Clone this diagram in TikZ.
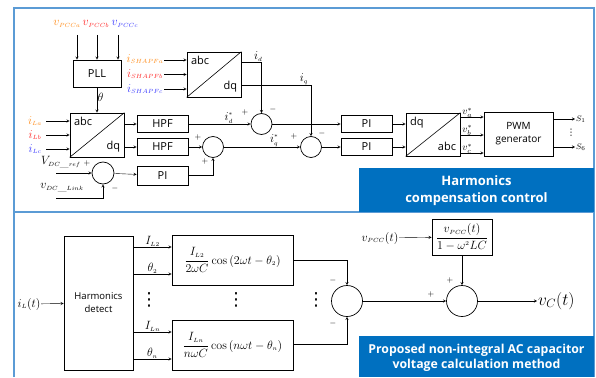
\documentclass[tikz,border=0pt]{standalone}
\usepackage{fontspec}
\setsansfont{Open Sans}
\newfontfamily\dotsfont{DejaVu Sans}
\usepackage{tikz}
\usetikzlibrary{positioning, calc}
\DeclareMathSizes{12}{12}{6.5}{5}
\definecolor{framecol}{HTML}{5B9BD5}
\definecolor{titlebg}{HTML}{0070C0}
\definecolor{phasea}{HTML}{FF8C1A}
\definecolor{phaseb}{HTML}{FF2A2A}
\definecolor{phasec}{HTML}{3A3AFF}

\begin{document}
\begin{tikzpicture}[x=1pt, y=-1pt, >=stealth,
    blk/.style={draw, line width=0.7pt, inner sep=0pt, font=\sffamily\fontsize{11}{13}\selectfont},
    sumnode/.style={draw, circle, line width=0.7pt, inner sep=0pt, minimum size=21pt},
    lbl/.style={inner sep=0.5pt, font=\large},
    sgn/.style={inner sep=0pt, font=\footnotesize},
    vdotsnode/.style={inner sep=0pt, font=\dotsfont\fontsize{18}{18}\selectfont},
    title/.style={text=white, align=center, font=\sffamily\bfseries\fontsize{13}{17}\selectfont}]
      \useasboundingbox (0,0) rectangle (596,377);

      % Frame
      \draw[framecol, line width=1.3pt] (14,377) -- (14,8) -- (594,8) -- (594,377);
      \draw[framecol, line width=1.3pt] (14,212) -- (594,212);
      \fill[titlebg] (359,168) rectangle (594,212);
      \fill[titlebg] (359,336) rectangle (594,377);
      \node[title] (ttop) at (476.5,191) {Harmonics\\compensation control};
      \node[title, font=\sffamily\bfseries\fontsize{12.3}{14.5}\selectfont] (tbot) at (476.5,358) {Proposed non-integral AC capacitor\\voltage calculation method};

      % Nodes (top)
      \node[blk, minimum width=48pt, minimum height=27pt] (pll) at (97,73.5) {PLL};
      \node[blk, minimum width=54pt, minimum height=44pt] (tl) at (97,135) {};
      \node[blk, minimum width=54pt, minimum height=45pt] (ts) at (214,74.5) {};
      \node[blk, minimum width=51pt, minimum height=17pt] (hpfd) at (162.5,124) {HPF};
      \node[blk, minimum width=51pt, minimum height=17pt] (hpfq) at (162.5,147) {HPF};
      \node[blk, minimum width=51pt, minimum height=19pt] (pidc) at (162.5,175.5) {PI};
      \node[sumnode] (sd) at (261.5,124) {};
      \node[sumnode] (sdc) at (213,147) {};
      \node[sumnode, minimum size=22pt] (sv) at (103,173) {};
      \node[sumnode] (sq) at (311,147) {};
      \node[blk, minimum width=51pt, minimum height=17pt] (pid) at (366.5,124) {PI};
      \node[blk, minimum width=51pt, minimum height=17pt] (piq) at (366.5,147) {PI};
      \node[blk, minimum width=54pt, minimum height=43pt] (tv) at (433,134.5) {};
      \node[blk, minimum width=69pt, minimum height=44pt, align=center, font=\sffamily\fontsize{10}{13}\selectfont] (pwm) at (518.5,134) {PWM\\generator};

      % abc/dq labels
      \draw[line width=0.6pt] (tl.south west) -- (tl.north east);
      \node[blk, draw=none, anchor=north west] (tlabc) at ([xshift=4pt,yshift=-4pt]tl.north west) {abc};
      \node[blk, draw=none, anchor=south east] (tldq) at ([xshift=-4pt,yshift=5pt]tl.south east) {dq};
      \draw[line width=0.6pt] (ts.south west) -- (ts.north east);
      \node[blk, draw=none, anchor=north west] (tsabc) at ([xshift=4pt,yshift=-4pt]ts.north west) {abc};
      \node[blk, draw=none, anchor=south east] (tsdq) at ([xshift=-4pt,yshift=5pt]ts.south east) {dq};
      \draw[line width=0.6pt] (tv.south west) -- (tv.north east);
      \node[blk, draw=none, anchor=north west] (tvdq) at ([xshift=4pt,yshift=-4pt]tv.north west) {dq};
      \node[blk, draw=none, anchor=south east] (tvabc) at ([xshift=-4pt,yshift=5pt]tv.south east) {abc};

      % Inputs
      \node[lbl, text=phasea] (vpa) at (67,24) {$v_{PCCa}$};
      \node[lbl, text=phaseb] (vpb) at (96,24) {$v_{PCCb}$};
      \node[lbl, text=phasec] (vpc) at (125,24) {$v_{PCCc}$};
      \draw[->] ([xshift=-20pt]pll.north |- 0,35) -- ([xshift=-20pt]pll.north);
      \draw[->] (pll.north |- 0,35) -- (pll.north);
      \draw[->] ([xshift=21pt]pll.north |- 0,35) -- ([xshift=21pt]pll.north);
      \draw[->] (pll) -- node[lbl, right, pos=0.4] (th) {$\theta$} (tl);

      \node[lbl, text=phasea] (ila) at (35,121) {$i_{La}$};
      \node[lbl, text=phaseb] (ilb) at (35,135) {$i_{Lb}$};
      \node[lbl, text=phasec] (ilc) at (35,149) {$i_{Lc}$};
      \draw[->] (46,121) -- (tl.west |- 0,121);
      \draw[->] (46,135) -- (tl.west);
      \draw[->] (46,149) -- (tl.west |- 0,149);

      \node[lbl, text=phasea] (isa) at (145,59) {$i_{SHAPFa}$};
      \node[lbl, text=phaseb] (isb) at (145,74) {$i_{SHAPFb}$};
      \node[lbl, text=phasec] (isc) at (145,89) {$i_{SHAPFc}$};
      \draw[->] (164,60) -- (ts.west |- 0,60);
      \draw[->] (164,74.5) -- (ts.west);
      \draw[->] (164,89) -- (ts.west |- 0,89);

      \node[lbl] (vref) at (61,162) {$V_{DC\_ref}$};
      \node[lbl] (vlink) at (62,188) {$v_{DC\_Link}$};
      \coordinate (vrefin) at (56,173);
      \coordinate (vlinkin) at (56,198);

      % Connections (top)
      \draw[->] (tl.east |- hpfd) -- (hpfd);
      \draw[->] (tl.east |- hpfq) -- (hpfq);
      \draw[->] (hpfd) -- node[lbl, above, pos=0.65] (idref) {$i_d^*$} (sd);
      \draw[->] (ts.east |- 0,62) -| node[lbl, above, pos=0.42] (idl) {$i_d$} (sd.north);
      \draw[->] (ts.east |- 0,85) -| node[lbl, above, pos=0.45] (iql) {$i_q$} (sq.north);
      \draw[->] (hpfq) -- (sdc);
      \draw[->] (vrefin) -- (sv);
      \draw[->] (vlinkin) -| (sv.south);
      \draw[->] (sv) -- (pidc);
      \draw[->] (pidc) -| (sdc.south);
      \draw[->] (sdc) -- node[lbl, above, pos=0.66] (iqref) {$i_q^*$} (sq);
      \draw[->] (sd) -- (pid);
      \draw[->] (sq) -- (piq);
      \draw[->] (pid) -- (pid -| tv.west);
      \draw[->] (piq) -- (piq -| tv.west);
      \draw[->] (tv.east |- 0,117) -- node[lbl, font=\normalsize, above, pos=0.3, yshift=-1pt] (va) {$v_a^*$} (pwm.west |- 0,117);
      \draw[->] (tv.east |- 0,135) -- node[lbl, font=\normalsize, above, pos=0.3, yshift=-1pt] (vb) {$v_b^*$} (pwm.west |- 0,135);
      \draw[->] (tv.east |- 0,153) -- node[lbl, font=\normalsize, above, pos=0.3, yshift=-1pt] (vc) {$v_c^*$} (pwm.west |- 0,153);
      \coordinate (sone) at (575,119);
      \coordinate (ssix) at (575,147);
      \draw[->] (pwm.east |- sone) -- (sone) node[right, inner sep=1pt, font=\footnotesize] (s1l) {$S_1$};
      \draw[->] (pwm.east |- ssix) -- (ssix) node[right, inner sep=1pt, font=\footnotesize] (s6l) {$S_6$};
      \node[vdotsnode, font=\dotsfont\fontsize{9}{9}\selectfont] (sdots) at (571,133) {⋮};

      % Signs (top)
      \node[sgn] (p1) at (245,112) {$+$};
      \node[sgn] (m1) at (273,109) {$-$};
      \node[sgn] (p2) at (198,137) {$+$};
      \node[sgn] (p3) at (205,161) {$+$};
      \node[sgn] (p4) at (294,136) {$+$};
      \node[sgn] (m4) at (322,133) {$-$};
      \node[sgn] (p5) at (87,163) {$+$};
      \node[sgn] (m5) at (115,188) {$-$};

      % Nodes (bottom)
      \node[blk, minimum width=69pt, minimum height=134pt, align=center, font=\sffamily\fontsize{9.5}{13}\selectfont] (hd) at (98.5,303) {Harmonics\\detect};
      \node[blk, minimum width=121pt, minimum height=50pt, font=\large] (ba) at (232.5,260) {$\displaystyle\frac{I_{L2}}{2\omega C}\cos\left(2\omega t-\theta_2\right)$};
      \node[blk, minimum width=121pt, minimum height=50pt, font=\large] (bb) at (232.5,345) {$\displaystyle\frac{I_{Ln}}{n\omega C}\cos\left(n\omega t-\theta_n\right)$};
      \node[blk, minimum width=60pt, minimum height=36pt, font=\large] (bc) at (462,237) {$\displaystyle\frac{v_{PCC}(t)}{1-\omega^2 LC}$};
      \node[sumnode, minimum size=31pt] (sh) at (347,301) {};
      \node[sumnode, minimum size=31pt] (sc) at (462,301) {};

      \node[lbl] (il) at (29,304) {$i_L(t)$};
      \node[lbl] (vpcc) at (380,238) {$v_{PCC}(t)$};
      \coordinate (vcout) at (537,301);
      \node[inner sep=1pt, anchor=west, font=\LARGE] (vc) at (vcout) {$v_C(t)$};

      \coordinate (a1) at ([yshift=13pt]ba.west);
      \coordinate (a2) at ([yshift=-14pt]ba.west);
      \coordinate (b1) at ([yshift=13pt]bb.west);
      \coordinate (b2) at ([yshift=-14pt]bb.west);

      % Connections (bottom)
      \draw[->] (il) -- (hd);
      \draw[->] (hd.east |- a1) -- node[lbl, above] (il2) {$I_{L2}$} (a1);
      \draw[->] (hd.east |- a2) -- node[lbl, above] (th2) {$\theta_2$} (a2);
      \draw[->] (hd.east |- b1) -- node[lbl, above] (iln) {$I_{Ln}$} (b1);
      \draw[->] (hd.east |- b2) -- node[lbl, above] (thn) {$\theta_n$} (b2);
      \draw[->] (ba) -| (sh.north);
      \draw[->] (bb.east |- 0,344) -| (sh.south);
      \draw[->] (sh) -- (sc);
      \draw[->] (vpcc) -- (bc);
      \draw[->] (bc) -- (sc);
      \draw[->] (sc) -- (vcout);

      \node[vdotsnode] (dots1) at (149,300) {⋮};
      \node[vdotsnode] (dots2) at (236,300) {⋮};
      \node[vdotsnode] (dots3) at (316,300) {⋮};

      % Signs (bottom)
      \node[sgn] (m6) at (333,280) {$-$};
      \node[sgn] (m7) at (333,323) {$-$};
      \node[sgn] (p8) at (431,294) {$+$};
      \node[sgn] (p9) at (450,280) {$+$};
    \end{tikzpicture}
\end{document}
